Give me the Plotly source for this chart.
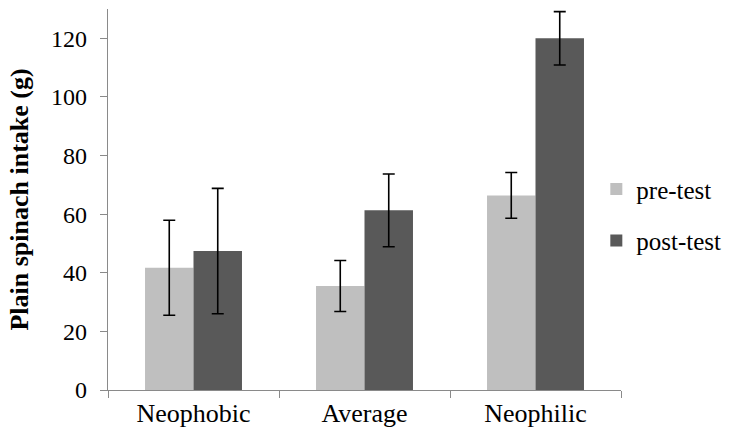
import plotly.graph_objects as go

# Spinach intake by food-neophobia group, before and after the intervention
groups = ["Neophobic", "Average", "Neophilic"]
pre_test = [41.7, 35.5, 66.4]
pre_err = [16.2, 8.7, 7.8]
post_test = [47.4, 61.3, 120.0]
post_err = [21.4, 12.4, 9.1]

serif = "Liberation Serif"
axis_grey = "#8a8a8a"

fig = go.Figure()
fig.add_trace(go.Bar(
    x=groups, y=pre_test, name="pre-test", legendgroup="pre",
    marker=dict(color="#bfbfbf", line=dict(width=0)),
    error_y=dict(type="data", array=pre_err, visible=True,
                 color="black", thickness=1.6, width=6),
))
fig.add_trace(go.Bar(
    x=groups, y=post_test, name="post-test", legendgroup="post",
    marker=dict(color="#595959", line=dict(width=0)),
    error_y=dict(type="data", array=post_err, visible=True,
                 color="black", thickness=1.6, width=6),
))

fig.update_layout(
    width=729, height=433,
    margin=dict(l=108, r=108, t=9, b=43, autoexpand=False),
    plot_bgcolor="white", paper_bgcolor="white",
    barmode="group", bargap=0.433, bargroupgap=0,
    font=dict(family=serif, size=26, color="black"),
    legend=dict(
        xref="container", x=0.818, xanchor="left",
        y=0.46, yanchor="middle",
        font=dict(family=serif, size=25),
        tracegroupgap=16, itemclick=False,
        bgcolor="rgba(0,0,0,0)",
    ),
    showlegend=True,
)
fig.update_xaxes(
    type="category", range=[-0.5, 2.5],
    showline=True, linecolor=axis_grey, linewidth=1.2,
    ticks="outside", tickson="boundaries", ticklen=7, tickcolor=axis_grey,
    tickfont=dict(family=serif, size=26), showgrid=False,
)
fig.update_yaxes(
    range=[0, 130], tickvals=[0, 20, 40, 60, 80, 100, 120],
    showline=True, linecolor=axis_grey, linewidth=1.2,
    ticks="outside", ticklen=7, tickcolor=axis_grey,
    tickfont=dict(family=serif, size=24), showgrid=False, zeroline=False,
    ticklabelstandoff=8,
    title=dict(text="<b>Plain spinach intake (g)</b>",
               font=dict(family=serif, size=26), standoff=14),
)

fig.write_html("out.html")
